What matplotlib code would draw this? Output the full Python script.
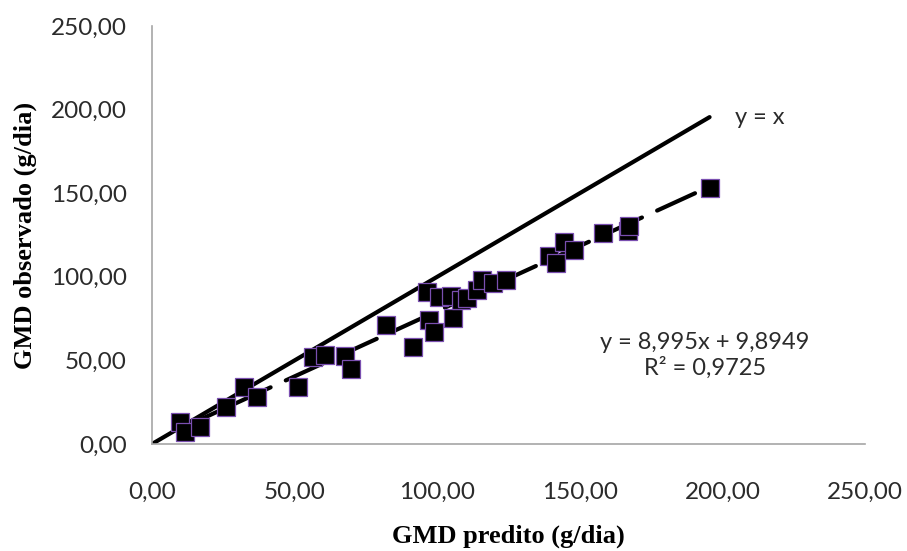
import numpy as np
import matplotlib
matplotlib.use("Agg")
import matplotlib.pyplot as plt
from matplotlib.ticker import FixedLocator, FuncFormatter

# Data
gmd_predito = [9.7, 11.5, 16.8, 25.8, 32.3, 36.7, 51.1, 56.6, 60.7, 67.8, 69.7,
               82.0, 91.4, 96.3, 97.0, 98.8, 100.6, 104.8, 105.5, 108.3, 110.4,
               113.9, 115.7, 119.5, 124.1, 139.2, 141.6, 144.5, 148.0, 158.0,
               166.8, 167.4, 195.5]
gmd_observado = [13.4, 7.4, 10.4, 22.0, 33.9, 28.3, 33.9, 52.3, 53.3, 52.7, 44.9,
                 71.3, 58.1, 91.0, 74.3, 67.1, 88.0, 88.6, 75.4, 86.2, 87.4,
                 92.2, 98.2, 96.4, 98.2, 112.2, 108.2, 121.1, 116.2, 126.2,
                 127.1, 130.1, 153.1]
ticks = [0, 50, 100, 150, 200, 250]
eq_text = "y = 8,995x + 9,8949"
r2_text = "R² = 0,9725"
id_text = "y = x"

x = np.array(gmd_predito)
y = np.array(gmd_observado)

fig = plt.figure(figsize=(9.07, 5.51), dpi=100)
ax = fig.add_axes([0.1676, 0.1942, 0.7861, 0.7586])

# y = x line
xl = np.array([0, x.max()])
ax.plot(xl, xl, color="black", lw=3, solid_capstyle="round", zorder=2)

# trendline
slope, intercept = np.polyfit(x, y, 1)
xt = np.array([x.min(), x.max()])
ax.plot(xt, slope * xt + intercept, color="black", lw=3, dashes=(10, 4),
        dash_capstyle="round", zorder=2)

ax.plot(x, y, linestyle="none", marker="s", markersize=13.5,
        markerfacecolor="black", markeredgecolor="#7a4fb0",
        markeredgewidth=0.9, zorder=3)

ax.set_xlim(0, 250)
ax.set_ylim(0, 250)
fmt = FuncFormatter(lambda v, p: f"{v:.2f}".replace(".", ","))
ax.xaxis.set_major_locator(FixedLocator(ticks))
ax.yaxis.set_major_locator(FixedLocator(ticks))
ax.xaxis.set_major_formatter(fmt)
ax.yaxis.set_major_formatter(fmt)

for s in ["top", "right"]:
    ax.spines[s].set_visible(False)
for s in ["left", "bottom"]:
    ax.spines[s].set_color("#a6a6a6")
    ax.spines[s].set_linewidth(1.2)

ax.tick_params(axis="both", length=0, labelsize=17.5, colors="#333333")
ax.tick_params(axis="x", pad=27)
ax.tick_params(axis="y", pad=18)
for lab in ax.get_xticklabels() + ax.get_yticklabels():
    lab.set_family("Lato")
    lab.set_color("#2b2b2b")

ax.set_xlabel("GMD predito (g/dia)", family="Liberation Serif",
              fontweight="bold", fontsize=19, labelpad=16)
ax.set_ylabel("GMD observado (g/dia)", family="Liberation Serif",
              fontweight="bold", fontsize=19, labelpad=10)

ax.text(0.818, 0.78, id_text, transform=ax.transAxes, family="Lato",
        fontsize=17, color="#2b2b2b", ha="left", va="center")
ax.text(0.775, 0.212, eq_text + "\n" + r2_text, transform=ax.transAxes,
        family="Lato", fontsize=17, color="#2b2b2b", ha="center",
        va="center", linespacing=1.2, multialignment="center")

fig.savefig("out.png", dpi=100)
